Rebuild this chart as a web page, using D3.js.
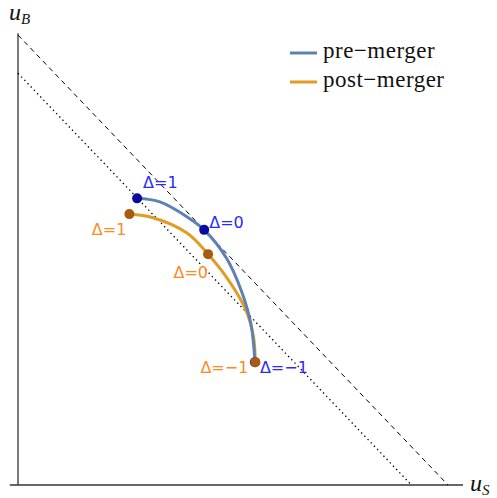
<!DOCTYPE html>
<html>
<head>
<meta charset="UTF-8" />
<script src="https://d3js.org/d3.v7.min.js"></script>
<style>
  html, body { margin: 0; padding: 0; background: #fff; overflow: hidden; }
  svg { display: block; }
  .legend { font-family: "Liberation Serif", "Times New Roman", serif; font-size: 23px; letter-spacing: 0.5px; fill: #111; }
  .axis-label { font-family: "Liberation Serif", serif; font-style: italic; fill: #111; }
  .dlabel { font-family: "DejaVu Sans", sans-serif; font-size: 16px; }
</style>
</head>
<body>
<svg width="497" height="498"></svg>
<script>
// utility frontier, pre-merger (uS, uB)
const preMerger = [
  [0.277, 0.637], [0.330, 0.629], [0.393, 0.596], [0.433, 0.567],
  [0.485, 0.504], [0.520, 0.430], [0.542, 0.356], [0.551, 0.273]
];
// utility frontier, post-merger
const postMerger = [
  [0.259, 0.602], [0.314, 0.594], [0.393, 0.560], [0.442, 0.513],
  [0.481, 0.467], [0.528, 0.393], [0.547, 0.333], [0.552, 0.273]
];
// marked points
const prePoints = [
  { delta: "1", uS: 0.277, uB: 0.637, dx: 6, dy: -10, anchor: "start" },
  { delta: "0", uS: 0.433, uB: 0.567, dx: 5, dy: -2, anchor: "start" },
  { delta: "\u22121", uS: 0.551, uB: 0.273, dx: 5, dy: 11, anchor: "start" }
];
const postPoints = [
  { delta: "1", uS: 0.259, uB: 0.602, dx: -3, dy: 21, anchor: "end" },
  { delta: "0", uS: 0.442, uB: 0.513, dx: 0, dy: 24, anchor: "end" },
  { delta: "\u22121", uS: 0.552, uB: 0.273, dx: -7, dy: 11, anchor: "end" }
];
// reference lines uS + uB = c
const sumLevels = [
  { c: 1, dash: "5,4", w: 1 },
  { c: 0.915, dash: "1.4,3.2", w: 1.3 }
];
const series = [
  { name: "pre\u2212merger", data: preMerger, color: "#5e81b5", pts: prePoints, ptColor: "#0a0aa0", txtColor: "#2a2aff" },
  { name: "post\u2212merger", data: postMerger, color: "#e19c24", pts: postPoints, ptColor: "#a85a10", txtColor: "#ff8a1e" }
];

const svg = d3.select("svg");
const x = d3.scaleLinear().domain([0, 1]).range([18, 448]);
const y = d3.scaleLinear().domain([0, 1]).range([485, 35]);

// axes
svg.append("line")
  .attr("x1", x(0)).attr("x2", x(0)).attr("y1", y(0)).attr("y2", y(1.004))
  .attr("stroke", "#333").attr("stroke-width", 1.3);
svg.append("line")
  .attr("x1", x(-0.019)).attr("x2", x(1.035)).attr("y1", y(0)).attr("y2", y(0))
  .attr("stroke", "#333").attr("stroke-width", 1.3);

// u_B, u_S
const ub = svg.append("text").attr("class", "axis-label").attr("x", 9).attr("y", 20);
ub.append("tspan").attr("font-size", 24).text("u");
ub.append("tspan").attr("font-size", 15).attr("dy", 4).text("B");
const us = svg.append("text").attr("class", "axis-label").attr("x", 470).attr("y", 491);
us.append("tspan").attr("font-size", 24).text("u");
us.append("tspan").attr("font-size", 15).attr("dy", 4).text("S");

// iso-surplus lines
svg.selectAll("line.level")
  .data(sumLevels)
  .enter()
  .append("line")
  .attr("class", "level")
  .attr("x1", x(0)).attr("y1", d => y(d.c))
  .attr("x2", d => x(d.c)).attr("y2", y(0))
  .attr("stroke", "#000")
  .attr("stroke-width", d => d.w)
  .attr("stroke-dasharray", d => d.dash);

const line = d3.line()
  .x(d => x(d[0]))
  .y(d => y(d[1]))
  .curve(d3.curveCatmullRom);

// post first so pre draws over it
const order = [series[1], series[0]];
order.forEach(s => {
  svg.append("path")
    .datum(s.data)
    .attr("d", line)
    .attr("fill", "none")
    .attr("stroke", s.color)
    .attr("stroke-width", 3);
});

series.forEach(s => {
  svg.selectAll(null)
    .data(s.pts)
    .enter()
    .append("circle")
    .attr("cx", d => x(d.uS))
    .attr("cy", d => y(d.uB))
    .attr("r", 5)
    .attr("fill", s.ptColor);

  svg.selectAll(null)
    .data(s.pts)
    .enter()
    .append("text")
    .attr("class", "dlabel")
    .attr("x", d => x(d.uS) + d.dx)
    .attr("y", d => y(d.uB) + d.dy)
    .attr("text-anchor", d => d.anchor)
    .attr("fill", s.txtColor)
    .text(d => "\u0394=" + d.delta);
});

// legend
const legend = svg.append("g").attr("transform", "translate(290,53)");
series.forEach((s, i) => {
  const row = legend.append("g").attr("transform", `translate(0,${i * 29})`);
  row.append("line")
    .attr("x1", 0).attr("x2", 27).attr("y1", 0).attr("y2", 0)
    .attr("stroke", s.color).attr("stroke-width", 3);
  row.append("text")
    .attr("class", "legend")
    .attr("x", 33).attr("y", 5)
    .text(s.name);
});
</script>
</body>
</html>
